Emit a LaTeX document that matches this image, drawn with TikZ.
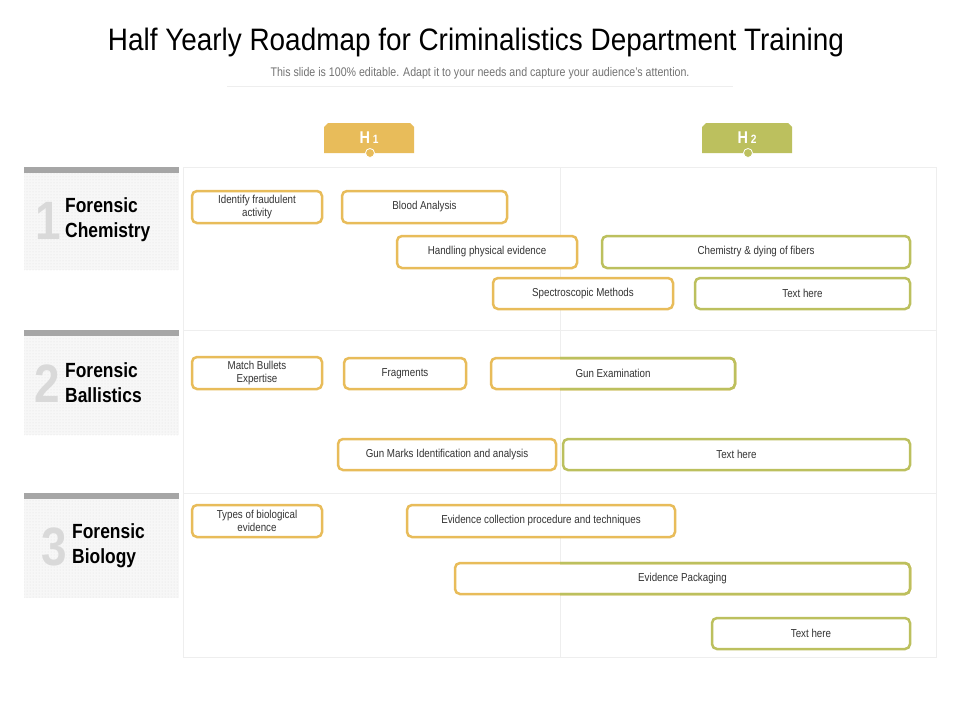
\documentclass[tikz,border=0pt]{standalone}
\usepackage{fontspec}
\setmainfont{Liberation Sans}[FakeStretch=0.85]
\newfontfamily\titlefont{Liberation Sans}[FakeStretch=0.9]
\usetikzlibrary{patterns}
\definecolor{Y}{HTML}{E8BC5A}
\definecolor{G}{HTML}{BCC05E}
\definecolor{grid}{HTML}{EEEEEE}
\definecolor{bar}{HTML}{A6A6A6}
\definecolor{num}{HTML}{D9D9D9}
\tikzset{
 bx/.style={draw=#1, line width=2.5pt, rounded corners=5pt, fill=white, inner sep=1pt, outer sep=0pt, align=center, font=\fontsize{11.5}{13.5}\selectfont, text=black!80},
 sect/.style={font=\bfseries\fontsize{20.5}{25}\selectfont, align=left, anchor=west, inner sep=0pt},
 bignum/.style={font=\bfseries\fontsize{54}{54}\selectfont, text=num, inner sep=0pt}
}
\newcommand\bxx[7]{\node[bx=#6, minimum width={#4-#2}, minimum height={#5-#3}] (#1) at ({(#2+#4)/2},{(#3+#5)/2}) {#7};}
\newcommand\splitgreen[1]{\begin{scope}\clip (560,100) rectangle (960,700);
 \draw[G, line width=2.5pt, rounded corners=5pt] (#1.north west) rectangle (#1.south east);\end{scope}}
\begin{document}
\begin{tikzpicture}[x=1pt,y=-1pt]
\useasboundingbox[fill=white] (0,0) rectangle (960,720);
\node[font=\titlefont\fontsize{31}{33}\selectfont] (title) at (476,42) {Half Yearly Roadmap for Criminalistics Department Training};
\node[font=\fontsize{12.5}{14}\selectfont, text=black!55] (sub) at (480,73) {This slide is 100\% editable.  Adapt it to your needs and capture your audience's attention.};
\draw[grid, line width=1pt] (227,86) -- (733,86);
% grid
\draw[grid, line width=1pt] (183,167) rectangle (936,657);
\draw[grid, line width=1pt] (183,330) -- (936,330) (183,493) -- (936,493) (560,167) -- (560,657);
% tabs
\fill[Y] (324,153) -- (324,127) -- (328,123) -- (410,123) -- (414,127) -- (414,153) -- cycle;
\fill[G] (702,153) -- (702,127) -- (706,123) -- (788,123) -- (792,127) -- (792,153) -- cycle;
\node[font=\bfseries\fontsize{17}{17}\selectfont, text=white] (h1) at (369,138) {H\,{\fontsize{12}{12}\selectfont 1}};
\node[font=\bfseries\fontsize{17}{17}\selectfont, text=white] (h2) at (747,138) {H\,{\fontsize{12}{12}\selectfont 2}};
\fill[Y, draw=white, line width=0.8pt] (370,153) circle (4.5);
\fill[G, draw=white, line width=0.8pt] (748,153) circle (4.5);
% left panels
\foreach \t/\b in {167/270, 330/435, 493/598}{
 \fill[black!3] (24,\t+6) rectangle (179,\b);
 \fill[pattern=dots, pattern color=black!12] (24,\t+6) rectangle (179,\b);
 \fill[bar] (24,\t) rectangle (179,\t+6);
}
\node[bignum] (n1) at (48,221) {1};
\node[sect] (s1) at (65,220) {Forensic\\Chemistry};
\node[bignum] (n2) at (47,384) {2};
\node[sect] (s2) at (65,383) {Forensic\\Ballistics};
\node[bignum] (n3) at (54,547) {3};
\node[sect] (s3) at (72,546) {Forensic\\Biology};
% row 1
\bxx{a1}{192}{191}{322}{223}{Y}{Identify fraudulent\\activity}
\bxx{a2}{342}{191}{507}{223}{Y}{Blood Analysis}
\bxx{a3}{397}{236}{577}{268}{Y}{Handling physical evidence}
\bxx{a4}{602}{236}{910}{268}{G}{Chemistry \& dying of fibers}
\bxx{a5}{493}{278}{673}{309}{Y}{Spectroscopic Methods}
\bxx{a6}{695}{278}{910}{309}{G}{Text here}
% row 2
\bxx{b1}{192}{357}{322}{389}{Y}{Match Bullets\\Expertise}
\bxx{b2}{344}{358}{466}{389}{Y}{Fragments}
\bxx{b3}{491}{358}{735}{389}{Y}{Gun Examination}
\splitgreen{b3}
\bxx{b4}{338}{439}{556}{470}{Y}{Gun Marks Identification and analysis}
\bxx{b5}{563}{439}{910}{470}{G}{Text here}
% row 3
\bxx{c1}{192}{505}{322}{537}{Y}{Types of biological\\evidence}
\bxx{c2}{407}{505}{675}{537}{Y}{Evidence collection procedure and techniques}
\bxx{c3}{455}{563}{910}{594}{Y}{Evidence Packaging}
\splitgreen{c3}
\bxx{c4}{712}{618}{910}{649}{G}{Text here}
\end{tikzpicture}
\end{document}
